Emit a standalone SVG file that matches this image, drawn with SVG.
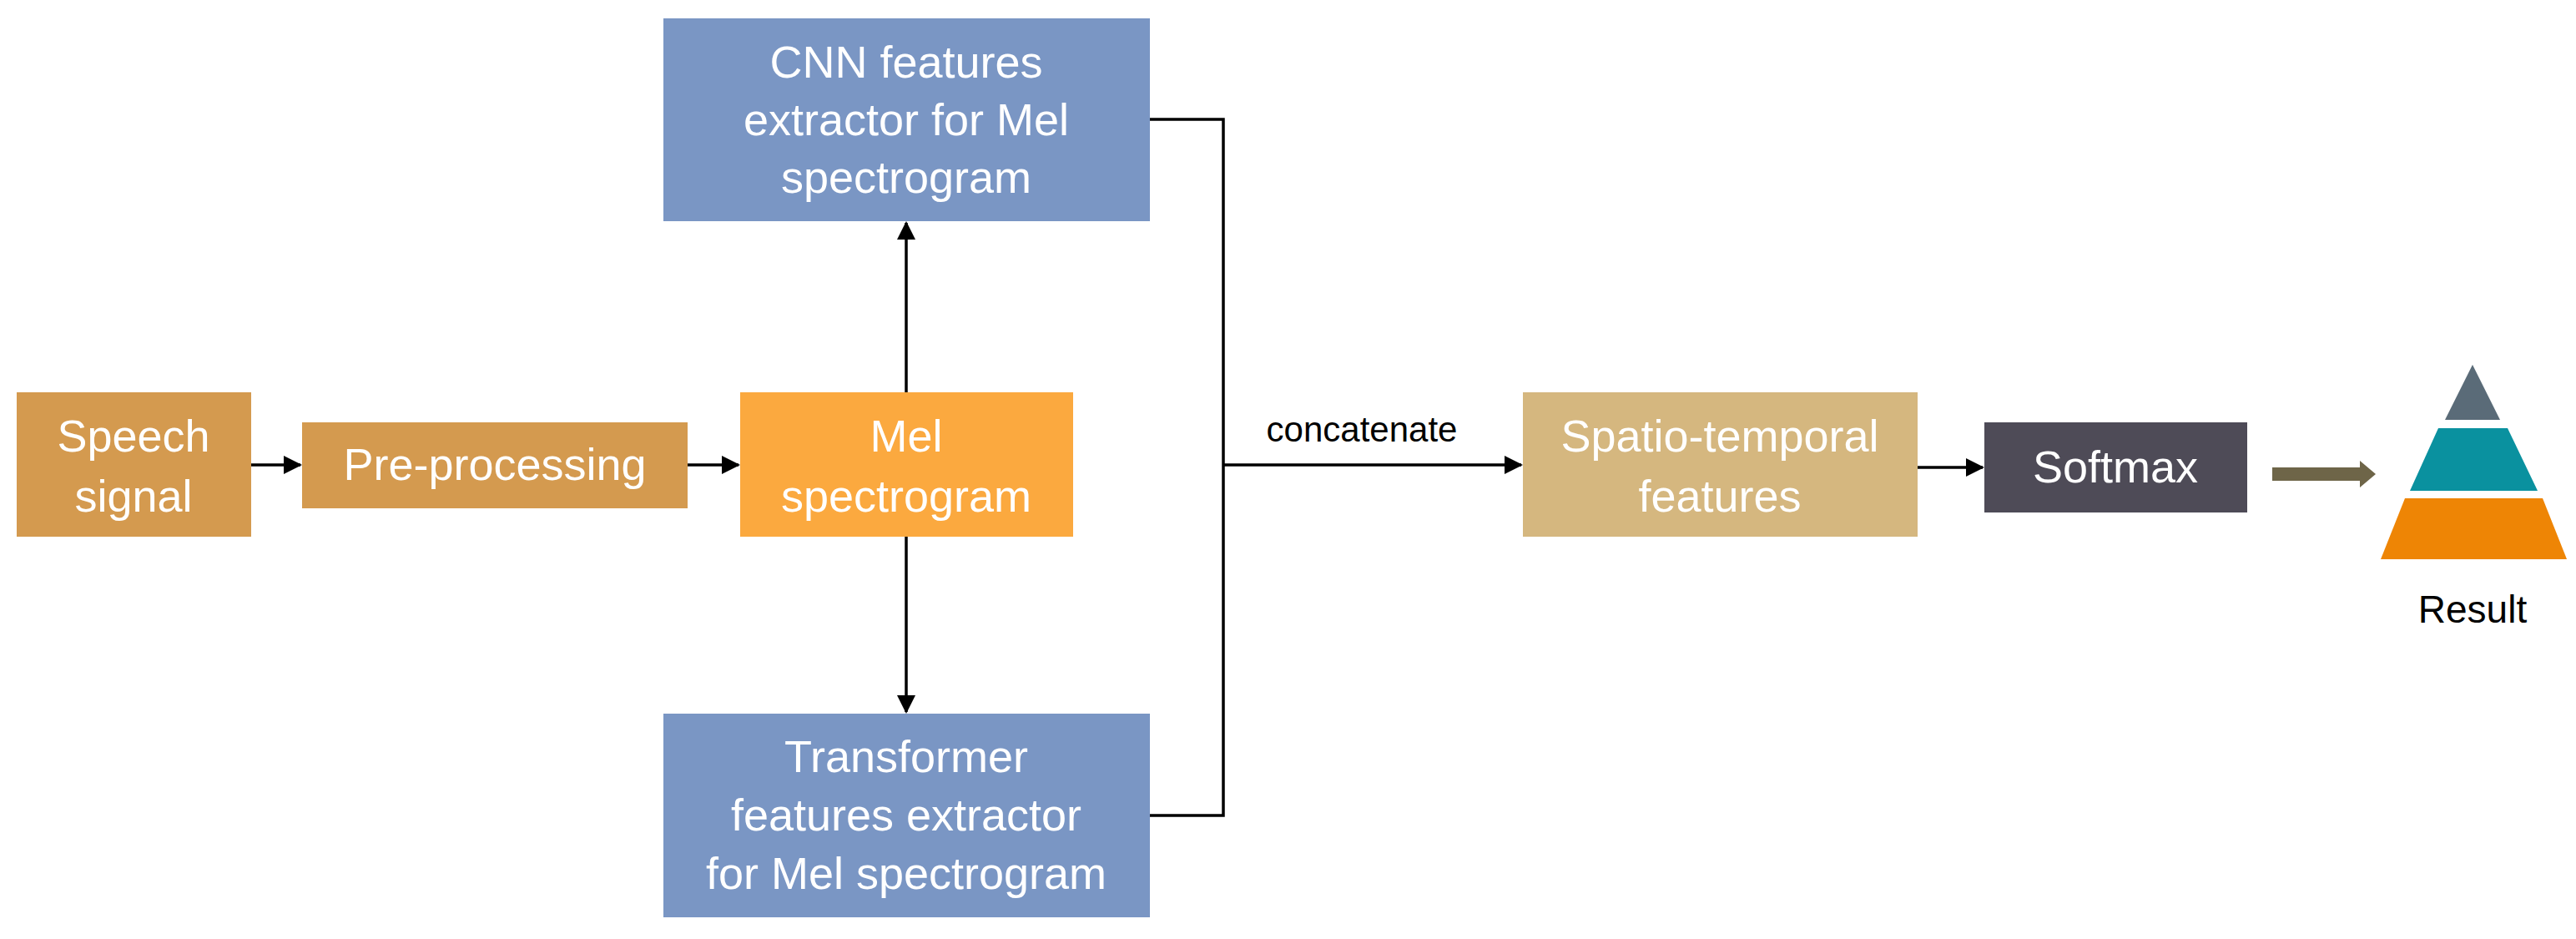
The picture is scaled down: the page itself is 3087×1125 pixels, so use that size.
<svg xmlns="http://www.w3.org/2000/svg" width="3087" height="1125" viewBox="0 0 3087 1125">
<style>
text{font-family:"Liberation Sans",Arial,sans-serif;font-size:54px;fill:#fff;text-anchor:middle}
.c{stroke:#000;stroke-width:3.5;fill:none}
</style>
<defs><marker id="a" markerWidth="22" markerHeight="22" refX="20" refY="11" orient="auto" markerUnits="userSpaceOnUse" viewBox="0 0 22 22"><path d="M0,0L22,11L0,22z"/></marker></defs>
<rect width="3087" height="1125" fill="#fff"/>
<g id="speech"><rect x="20" y="470" width="281" height="173" fill="#D49A4F"/><text x="160" y="541">Speech</text><text x="160" y="613">signal</text></g>
<g id="pre"><rect x="362" y="506" width="462" height="103" fill="#D49A4F"/><text x="593" y="575">Pre-processing</text></g>
<g id="mel"><rect x="887" y="470" width="399" height="173" fill="#FBA93F"/><text x="1086" y="541">Mel</text><text x="1086" y="613">spectrogram</text></g>
<g id="cnn"><rect x="795" y="22" width="583" height="243" fill="#7A96C4"/><text x="1086" y="93">CNN features</text><text x="1086" y="162">extractor for Mel</text><text x="1086" y="231">spectrogram</text></g>
<g id="trans"><rect x="795" y="855" width="583" height="244" fill="#7A96C4"/><text x="1086" y="925">Transformer</text><text x="1086" y="995">features extractor</text><text x="1086" y="1065">for Mel spectrogram</text></g>
<g id="spatio"><rect x="1825" y="470" width="473" height="173" fill="#D5B77F"/><text x="2061" y="541">Spatio-temporal</text><text x="2061" y="613">features</text></g>
<g id="softmax"><rect x="2378" y="506" width="315" height="108" fill="#4E4B57"/><text x="2535" y="578">Softmax</text></g>
<g id="result"><polygon points="2963,437 2996,503 2930,503" fill="#5A6B78"/><polygon points="2922,513 3005,513 3041,588 2888,588" fill="#0A919F"/><polygon points="2882,597 3047,597 3076,670 2853,670" fill="#EE8505"/><text x="2963" y="746" style="fill:#000;font-size:46px">Result</text></g>
<g id="connectors">
<line class="c" x1="301" y1="557" x2="360" y2="557" marker-end="url(#a)"/>
<line class="c" x1="824" y1="557" x2="885" y2="557" marker-end="url(#a)"/>
<line class="c" x1="1086" y1="470" x2="1086" y2="267" marker-end="url(#a)"/>
<line class="c" x1="1086" y1="643" x2="1086" y2="853" marker-end="url(#a)"/>
<polyline class="c" points="1378,143 1466,143 1466,977 1378,977"/>
<line class="c" x1="1466" y1="557" x2="1823" y2="557" marker-end="url(#a)"/>
<text x="1632" y="529" style="fill:#000;font-size:42px">concatenate</text>
<line class="c" x1="2298" y1="560" x2="2376" y2="560" marker-end="url(#a)"/>
<polygon points="2723,560 2828,560 2828,552 2847,568 2828,584 2828,576 2723,576" fill="#6E6548"/>
</g>
</svg>
